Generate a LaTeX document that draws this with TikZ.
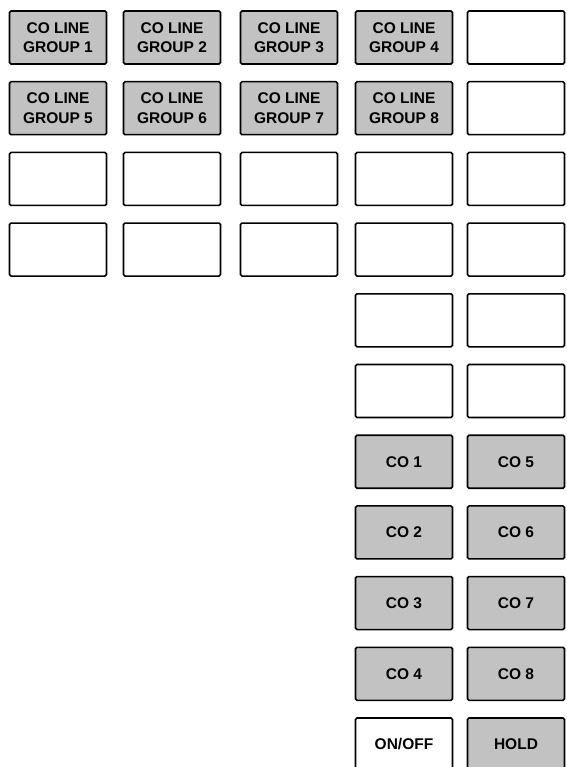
\documentclass[tikz,border=0pt]{standalone}
\usepackage{fontspec}
\setmainfont{Liberation Sans}
\begin{document}
\begin{tikzpicture}[x=1pt,y=-1pt,
  key/.style={draw=black, line width=1.6pt, rounded corners=1.5pt,
    minimum width=97pt, minimum height=53pt, inner sep=0pt,
    align=center, font=\fontsize{15.5}{19.5}\selectfont\bfseries},
  shaded/.style={key, fill=black!24}]
\useasboundingbox (0,0) rectangle (566,767);
% row centres
\def\ra{37.5}\def\rb{108.2}\def\rc{178.9}\def\rd{249.6}\def\re{320.3}
\def\rf{391}\def\rg{461.7}\def\rh{532.4}\def\ri{603.1}\def\rj{673.8}\def\rk{744.5}
% column centres
\def\ca{58}\def\cb{172}\def\cc{289}\def\cd{404}\def\ce{516}
% row 1
\node[shaded] (g1) at (\ca,\ra) {CO LINE\\GROUP 1};
\node[shaded] (g2) at (\cb,\ra) {CO LINE\\GROUP 2};
\node[shaded] (g3) at (\cc,\ra) {CO LINE\\GROUP 3};
\node[shaded] (g4) at (\cd,\ra) {CO LINE\\GROUP 4};
\node[key] (e15) at (\ce,\ra) {};
% row 2
\node[shaded] (g5) at (\ca,\rb) {CO LINE\\GROUP 5};
\node[shaded] (g6) at (\cb,\rb) {CO LINE\\GROUP 6};
\node[shaded] (g7) at (\cc,\rb) {CO LINE\\GROUP 7};
\node[shaded] (g8) at (\cd,\rb) {CO LINE\\GROUP 8};
\node[key] (e25) at (\ce,\rb) {};
% rows 3-4
\node[key] (e31) at (\ca,\rc) {};
\node[key] (e32) at (\cb,\rc) {};
\node[key] (e33) at (\cc,\rc) {};
\node[key] (e34) at (\cd,\rc) {};
\node[key] (e35) at (\ce,\rc) {};
\node[key] (e41) at (\ca,\rd) {};
\node[key] (e42) at (\cb,\rd) {};
\node[key] (e43) at (\cc,\rd) {};
\node[key] (e44) at (\cd,\rd) {};
\node[key] (e45) at (\ce,\rd) {};
% rows 5-6
\node[key] (e54) at (\cd,\re) {};
\node[key] (e55) at (\ce,\re) {};
\node[key] (e64) at (\cd,\rf) {};
\node[key] (e65) at (\ce,\rf) {};
% CO keys
\node[shaded] (co1) at (\cd,\rg) {CO 1};
\node[shaded] (co5) at (\ce,\rg) {CO 5};
\node[shaded] (co2) at (\cd,\rh) {CO 2};
\node[shaded] (co6) at (\ce,\rh) {CO 6};
\node[shaded] (co3) at (\cd,\ri) {CO 3};
\node[shaded] (co7) at (\ce,\ri) {CO 7};
\node[shaded] (co4) at (\cd,\rj) {CO 4};
\node[shaded] (co8) at (\ce,\rj) {CO 8};
% bottom row
\node[key] (onoff) at (\cd,\rk) {ON/OFF};
\node[shaded] (hold) at (\ce,\rk) {HOLD};
\end{tikzpicture}
\end{document}
